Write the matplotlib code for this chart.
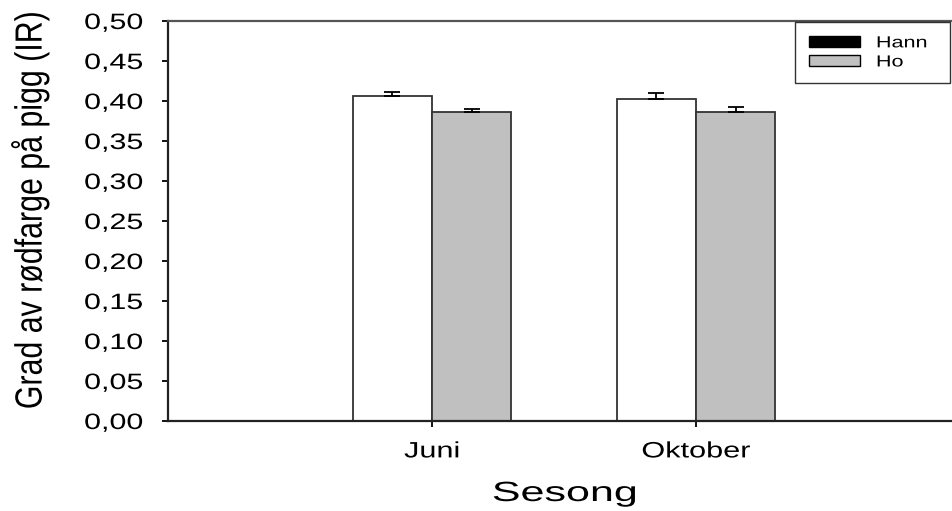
import matplotlib
matplotlib.use("Agg")
import matplotlib.pyplot as plt
from matplotlib.patches import Patch
from matplotlib.patheffects import AbstractPathEffect
from matplotlib.transforms import Affine2D
import numpy as np

plt.rcParams['font.family'] = ['Liberation Sans', 'DejaVu Sans']

categories = ["Juni", "Oktober"]
series_names = ["Hann", "Ho"]
hann = [0.406, 0.403]
ho = [0.386, 0.386]
hann_err = [0.005, 0.007]
ho_err = [0.004, 0.007]
yticks = [0.0, 0.05, 0.10, 0.15, 0.20, 0.25, 0.30, 0.35, 0.40, 0.45, 0.50]


class Stretch(AbstractPathEffect):
    """Rescale glyphs along / across the text direction (text stays a real Text artist)."""
    def __init__(self, sx, anchor=0.0, sy=1.0):
        super().__init__()
        self.sx = sx
        self.sy = sy
        self.anchor = anchor

    def draw_path(self, renderer, gc, tpath, affine, rgbFace=None):
        ext = tpath.get_extents()
        a = ext.x0 * (1 - self.anchor) + ext.x1 * self.anchor if self.anchor > 0 else 0.0
        b = 0.5 * (ext.y0 + ext.y1)
        t = (Affine2D().translate(-a, -b).scale(self.sx, self.sy).translate(a, b)
             + affine)
        renderer.draw_path(gc, tpath, t, rgbFace)


W, H = 952, 511
fig = plt.figure(figsize=(W/100, H/100), dpi=100)
ax = fig.add_axes([168/W, 1-421/H, 792/W, 400/H])

x = np.arange(1, len(categories)+1)
bw = 0.3
ax.bar(x - bw/2, hann, bw, color='white', edgecolor='#333333', linewidth=1.3, zorder=2)
ax.bar(x + bw/2, ho, bw, color='#c0c0c0', edgecolor='#333333', linewidth=1.3, zorder=2)
zeros = [0, 0]
ax.errorbar(x - bw/2, hann, yerr=[zeros, hann_err], fmt='none', ecolor='black',
            elinewidth=1.3, capsize=6, capthick=1.3, zorder=3)
ax.errorbar(x + bw/2, ho, yerr=[zeros, ho_err], fmt='none', ecolor='black',
            elinewidth=1.3, capsize=6, capthick=1.3, zorder=3)

ax.set_xlim(0, 3)
ax.set_ylim(0, 0.5)
ax.set_xticks(x)
ax.set_xticklabels(categories, fontsize=16)
ax.set_yticks(yticks)
ax.set_yticklabels([f"{v:.2f}".replace('.', ',') for v in yticks], fontsize=16)
ax.tick_params(axis='y', direction='out', length=4.3, width=1.3, pad=13.7)
ax.tick_params(axis='x', direction='out', length=4.3, width=1.3, pad=10.4)
for lab in ax.get_yticklabels():
    lab.set_path_effects([Stretch(1.37, anchor=1.0)])
for lab in ax.get_xticklabels():
    lab.set_path_effects([Stretch(1.38, anchor=0.5)])
for s in ax.spines.values():
    s.set_linewidth(1.6)
    s.set_color('#222222')
ax.spines['top'].set_color('#555555')

ax.set_ylabel("Grad av rødfarge på pigg (IR)", fontsize=21)
ax.yaxis.label.set_va('center')
ax.yaxis.set_label_coords((30-168)/792, (421-210)/400)
ax.yaxis.label.set_path_effects([Stretch(1.04, anchor=0.5, sy=1.3)])

ax.set_xlabel("Sesong", fontsize=20)
ax.xaxis.label.set_va('baseline')
ax.xaxis.set_label_coords((564.5-168)/792, (421-501)/400)
ax.xaxis.label.set_path_effects([Stretch(1.55, anchor=0.5)])

handles = [Patch(facecolor='black', edgecolor='black'),
           Patch(facecolor='#c0c0c0', edgecolor='black')]
leg = ax.legend(handles, series_names, loc='upper left', mode='expand',
                bbox_to_anchor=(795/W, 1-84/H, 155/W, 62/H), bbox_transform=fig.transFigure,
                fontsize=10.5, frameon=True, fancybox=False, edgecolor='black',
                handlelength=3.5, handleheight=0.78, borderpad=0.95, labelspacing=0.35,
                handletextpad=1.1, borderaxespad=0)
leg.get_frame().set_linewidth(1.0)
for t in leg.get_texts():
    t.set_path_effects([Stretch(1.48, anchor=0.0, sy=1.1)])

fig.savefig("out.png", dpi=100)
